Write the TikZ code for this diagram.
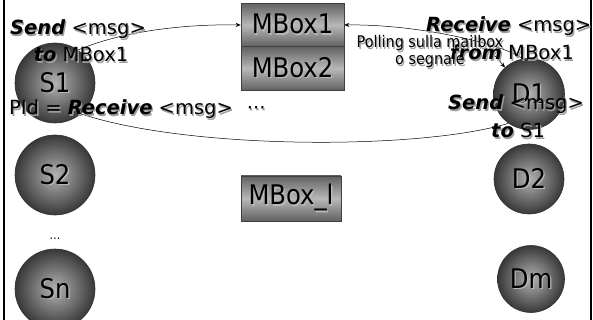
\documentclass[tikz,border=0pt]{standalone}
\usepackage{fontspec}
\setmainfont{DejaVu Sans}
\newfontfamily\condfont{DejaVu Sans Condensed}
\usetikzlibrary{arrows.meta}
\colorlet{shc}{black!38}
\colorlet{shl}{white!72!black}
\newcommand\sh[2][shc]{\leavevmode\rlap{\kern1.3pt\raisebox{-1.3pt}{\textcolor{#1}{#2}}}#2}
\newcommand\bi[1]{\textbf{\textit{#1}}}
\begin{document}
\begin{tikzpicture}[x=1pt,y=-1pt,
  ball/.style={circle, draw=black!80, line width=0.6pt, inner sep=0pt, shading=radial,
    inner color=black!30, outer color=black!78, font=\condfont\fontsize{27}{27}\selectfont},
  mbox/.style={rectangle, draw=black!75, line width=0.6pt, inner sep=0pt,
    minimum width=103pt, minimum height=43.5pt, top color=black!62, bottom color=black!62,
    middle color=black!28, font=\condfont\fontsize{27}{27}\selectfont},
  lbl/.style={inner sep=0pt, font=\fontsize{19.5}{20}\selectfont},
  small/.style={inner sep=0pt, font=\condfont\fontsize{16}{16}\selectfont},
  conn/.style={draw=black, line width=0.5pt},
  arr/.style={conn, -{Stealth[length=5pt,width=4pt]}}
]
\fill[white] (0,0) rectangle (593,320);
\useasboundingbox (0,0) rectangle (593,320);
% borders
\draw[line width=2.5pt] (4,0) -- (4,320);
\draw[line width=2pt] (590.5,0) -- (590.5,320);
% processes
\node[ball, minimum size=80pt] (S1) at (55,83) {\sh[shl]{S1}};
\node[ball, minimum size=80pt] (S2) at (55,175) {\sh[shl]{S2}};
\node[inner sep=0pt, font=\condfont\fontsize{12}{12}\selectfont, anchor=base] (dots) at (55,239) {…};
\node[ball, minimum size=80pt] (Sn) at (55,289) {\sh[shl]{Sn}};
\node[ball, minimum size=71pt] (D1) at (529,94) {\sh[shl]{D1}};
\node[ball, minimum size=70pt] (D2) at (529,179) {\sh[shl]{D2}};
\node[ball, minimum size=67pt] (Dm) at (531,279) {\sh[shl]{Dm}};
% mailboxes
\node[mbox] (MBox1) at (292.5,25) {\sh[shl]{MBox1}};
\node[mbox] (MBox2) at (292.5,68.5) {\sh[shl]{MBox2}};
\node[mbox, minimum width=100pt, minimum height=45pt] (MBoxl) at (291,198.5) {\sh[shl]{MBox\_l}};
% connectors
\draw[arr] (S1.55) .. controls (125,30) and (190,24) .. (MBox1.west);
\draw[arr] (D1.100) .. controls (505,45) and (420,24) .. (MBox1.east);
\coordinate (pstart) at (489,52);
\draw[arr] (pstart) .. controls (497,56) and (500,62) .. (D1.132);
\draw[conn] (S1.-50) .. controls (190,150) and (420,150) .. (D1.235);
% labels
\node[lbl, anchor=base] (sa1) at (78,35) {\sh{\bi{Send} <msg>}};
\node[lbl, anchor=base] (sa2) at (81,62) {\sh{\bi{to} MBox1}};
\node[lbl, anchor=base west] (ra) at (9,115) {\sh{PId = \bi{Receive} <msg>\hspace{14pt}···}};
\node[lbl, anchor=base west] (rb1) at (426,32) {\sh{\bi{Receive} <msg>}};
\node[lbl, anchor=base west] (rb2) at (450,60) {\sh{\bi{from} MBox1}};
\node[small, anchor=base] (p1) at (430,48) {\sh{Polling sulla mailbox}};
\node[small, anchor=base] (p2) at (430,65) {\sh{o segnale}};
\node[lbl, anchor=base west] (sb1) at (448,110) {\sh{\bi{Send} <msg>}};
\node[lbl, anchor=base west] (sb2) at (491,138) {\sh{\bi{to} S1}};
\end{tikzpicture}
\end{document}
